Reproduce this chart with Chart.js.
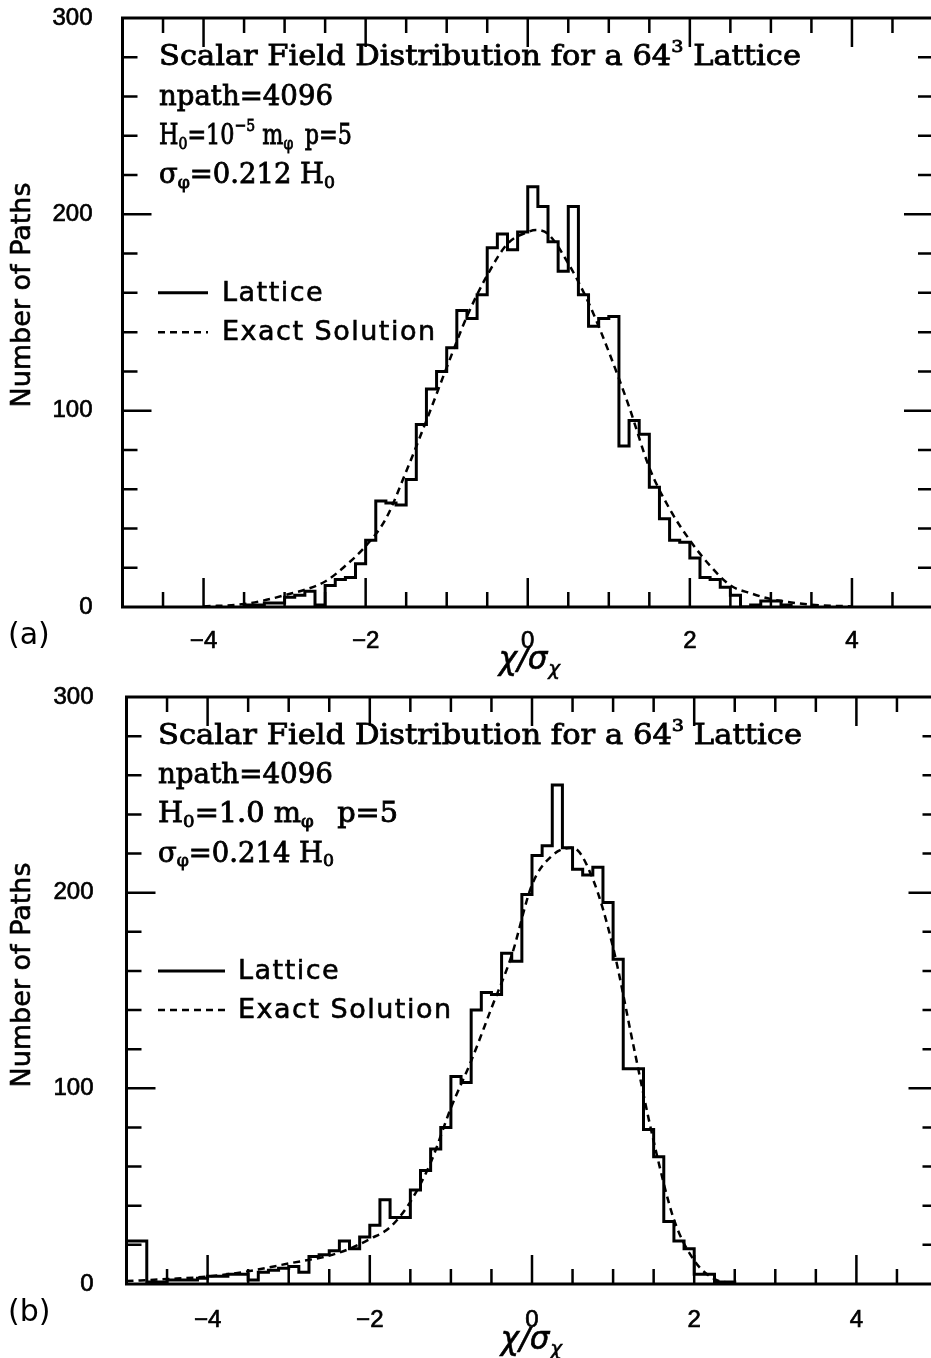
<!DOCTYPE html>
<html><head><meta charset="utf-8">
<script src="https://cdn.jsdelivr.net/npm/chart.js@4/dist/chart.umd.min.js"></script>
<style>
html,body{margin:0;padding:0;background:#fff;overflow:hidden;width:931px;height:1358px;}
.wrap{position:absolute;left:0;width:945px;}
#wa{top:0;height:680px;}
#wb{top:680px;height:678px;}
canvas{display:block;}
</style></head><body>
<div class="wrap" id="wa"><canvas id="ca" width="945" height="680"></canvas></div>
<div class="wrap" id="wb"><canvas id="cb" width="945" height="678"></canvas></div>
<script>
// ---------------- data ----------------
const binWidth = 0.125;

// Panel (a): H0 = 1e-5 m_phi
const histAStart = -3.5;
const histACounts = [1,1,2,2,5,6,8,1,11,14,15,22,34,54,53,52,65,93,111,120,132,151,147,159,183,190,182,191,214,204,186,171,204,159,143,147,148,82,95,88,61,45,34,33,25,15,14,10,6,0,1,3,3,1];
const exactAX = [-4.0,-3.5,-3.0,-2.5,-2.25,-2.0,-1.75,-1.5,-1.25,-1.0,-0.75,-0.5,-0.25,0.0,0.1,0.25,0.5,0.75,1.0,1.25,1.5,1.75,2.0,2.25,2.5,2.75,3.0,3.5,4.0];
const exactAY = [0.3,1.5,6,13,21,31,45,69,95,122,148,169,185,191,192,190,175,155,130,102,71,50,34,21,11,7,4,1.2,0.3];

// Panel (b): H0 = 1.0 m_phi
const histBStart = -5.0;
const histBCounts = [22,22,1,1,2,2,2,3,4,4,5,5,2,6,7,8,9,6,14,15,17,22,18,24,30,43,34,34,48,58,69,80,106,103,140,149,148,169,165,199,219,224,255,223,212,209,213,195,166,110,110,79,65,32,22,18,5,5,1,1];
const exactBX = [-5.0,-4.5,-4.0,-3.5,-3.0,-2.5,-2.25,-2.0,-1.75,-1.5,-1.25,-1.0,-0.75,-0.5,-0.25,0.0,0.25,0.5,0.75,1.0,1.25,1.5,1.75,2.0,2.25,2.5];
const exactBY = [1.5,2.5,3.8,6.5,10.5,14.5,18,23,29,42,62,90,114,141,168,204,219,223,207,172,122,73,33,12,2.5,0.3];

const xTickLabels = [-4,-2,0,2,4];
const yTickLabels = [0,100,200,300];
const xRange = [-5,5];
const yRange = [0,300];
const xMinorStep = 0.5, xMajorStep = 2;
const yMinorStep = 20, yMajorStep = 100;
const legendLabels = ['Lattice','Exact Solution'];
const legendYValues = [160,140];
const annotYValues = [280,260,240,220];
const yTitle = 'Number of Paths';

const annotA = [
  [{t:'Scalar Field Distribution for a 64'},{t:'3',sup:1},{t:' Lattice'}],
  [{t:'npath=4096'}],
  [{t:'H'},{t:'0',sub:1},{t:'=10'},{t:'−5',sup:1},{t:' m'},{t:'φ',sub:1},{t:'p=5',gap:14}],
  [{t:'σ'},{t:'φ',sub:1},{t:'=0.212 H'},{t:'0',sub:1}]
];
const annotB = [
  [{t:'Scalar Field Distribution for a 64'},{t:'3',sup:1},{t:' Lattice'}],
  [{t:'npath=4096'}],
  [{t:'H'},{t:'0',sub:1},{t:'=1.0 m'},{t:'φ',sub:1},{t:'p=5',gap:22}],
  [{t:'σ'},{t:'φ',sub:1},{t:'=0.214 H'},{t:'0',sub:1}]
];

// ---------------- helpers ----------------
function histPoints(start, counts){
  const pts = [{x:start, y:0}];
  counts.forEach((c,i)=>pts.push({x:start + i*binWidth, y:c}));
  const end = start + counts.length*binWidth;
  pts.push({x:end, y:counts[counts.length-1]});
  pts.push({x:end, y:0});
  return pts;
}
function boldText(ctx, t, x, y, lw){
  ctx.fillText(t, x, y);
  ctx.lineWidth = lw; ctx.strokeText(t, x, y);
}
function drawRich(ctx, segs, x, y, size, fitW){
  const subSize = Math.round(size*0.62);
  const parts = segs.map(s=>({
    t:s.t, gap:s.gap||0,
    font: (s.sub||s.sup) ? subSize+'px "DejaVu Serif"' : size+'px "DejaVu Serif"',
    dy: s.sup ? -size*0.38 : (s.sub ? size*0.27 : 0)
  }));
  let w = 0;
  parts.forEach(p=>{ctx.font=p.font; p.w=ctx.measureText(p.t).width; w += p.gap + p.w;});
  const sx = fitW ? fitW/w : 1;
  ctx.save();
  ctx.translate(x, y);
  ctx.scale(sx,1);
  ctx.textAlign='left'; ctx.textBaseline='middle';
  let cx = 0;
  parts.forEach(p=>{cx += p.gap; ctx.font=p.font; boldText(ctx, p.t, cx, p.dy, 0.8); cx += p.w;});
  ctx.restore();
}

const deco = {
  id:'deco',
  afterDraw(chart, args, o){
    const {ctx, chartArea:a, scales:{x, y}} = chart;
    ctx.save();
    ctx.strokeStyle='#000'; ctx.fillStyle='#000';
    // inward ticks on all four sides
    ctx.lineWidth = 2.5;
    ctx.beginPath();
    for (let i=1; ; i++){
      const v = xRange[0] + i*xMinorStep;
      if (v >= xRange[1]-1e-9) break;
      const L = Math.abs(v % xMajorStep) < 1e-9 ? o.major : o.minor;
      const px = x.getPixelForValue(v);
      ctx.moveTo(px, a.bottom); ctx.lineTo(px, a.bottom - L);
      ctx.moveTo(px, a.top); ctx.lineTo(px, a.top + L);
    }
    for (let i=1; ; i++){
      const v = yRange[0] + i*yMinorStep;
      if (v >= yRange[1]-1e-9) break;
      const L = Math.abs(v % yMajorStep) < 1e-9 ? o.major : o.minor;
      const py = y.getPixelForValue(v);
      ctx.moveTo(a.left, py); ctx.lineTo(a.left + L, py);
      ctx.moveTo(a.right, py); ctx.lineTo(a.right - L, py);
    }
    ctx.stroke();
    // frame
    ctx.lineWidth = 3;
    ctx.strokeRect(a.left, a.top, a.right-a.left, a.bottom-a.top);

    // annotation text
    o.annot.forEach((segs,i)=>{
      drawRich(ctx, segs, o.textX, y.getPixelForValue(annotYValues[i]) + 1, 27, o.textW[i]);
    });

    // legend
    ctx.textAlign='left'; ctx.textBaseline='middle';
    legendLabels.forEach((lab,i)=>{
      const py = y.getPixelForValue(legendYValues[i]);
      ctx.beginPath();
      if (i===0){ ctx.setLineDash([]); ctx.lineWidth=3; }
      else { ctx.setLineDash([7,5]); ctx.lineWidth=2.5; }
      ctx.moveTo(o.legX0, py); ctx.lineTo(o.legX1, py); ctx.stroke();
      ctx.setLineDash([]);
      ctx.font = '27px "DejaVu Sans"';
      try { ctx.letterSpacing = '1.5px'; } catch(e) {}
      boldText(ctx, lab, o.legTextX, py + 1, 0.6);
      try { ctx.letterSpacing = '0px'; } catch(e) {}
    });

    // y axis title
    ctx.save();
    ctx.translate(o.yTitleX, o.yTitleY);
    ctx.rotate(-Math.PI/2);
    ctx.font = '27px "DejaVu Sans"';
    ctx.textAlign='center'; ctx.textBaseline='middle';
    boldText(ctx, yTitle, 0, 0, 0.6);
    ctx.restore();

    // x axis title  chi / sigma_chi
    {
      const big = 'italic 31px "DejaVu Sans"', small = 'italic 20px "DejaVu Sans"';
      ctx.font = big; const w1 = ctx.measureText('χ/σ').width;
      ctx.font = small; const w2 = ctx.measureText('χ').width;
      const x0 = o.xTitleX - (w1+w2)/2;
      ctx.textAlign='left'; ctx.textBaseline='middle';
      ctx.font = big; boldText(ctx, 'χ/σ', x0, o.xTitleY, 0.6);
      ctx.font = small; boldText(ctx, 'χ', x0 + w1 + 1, o.xTitleY + 9, 0.5);
    }

    // panel label
    ctx.font = '30px "DejaVu Sans"';
    ctx.textAlign='left'; ctx.textBaseline='middle';
    ctx.fillText(o.panel, 8, o.panelY);
    ctx.restore();
  }
};

function makeChart(id, cfg){
  const H = cfg.H;
  const tickFont = {family:'"Liberation Sans", Arial, sans-serif', size:24};
  return new Chart(document.getElementById(id), {
    type:'line',
    data:{datasets:[
      {label:legendLabels[0], data:histPoints(cfg.histStart, cfg.counts), stepped:true,
       borderColor:'#000', borderWidth:3, pointRadius:0, fill:false, tension:0},
      {label:legendLabels[1], data:cfg.ex.map((v,i)=>({x:v, y:cfg.ey[i]})),
       borderColor:'#000', borderWidth:2.5, borderDash:[7,5], pointRadius:0, fill:false,
       cubicInterpolationMode:'monotone'}
    ]},
    options:{
      responsive:false, animation:false, events:[],
      layout:{padding:{left:0, top:cfg.top, right:945-cfg.right, bottom:0}},
      plugins:{legend:{display:false}, tooltip:{enabled:false}, deco:cfg.deco},
      scales:{
        x:{type:'linear', min:xRange[0], max:xRange[1],
           grid:{display:false, drawTicks:false}, border:{display:false},
           afterBuildTicks:s=>{ s.ticks = xTickLabels.map(v=>({value:v})); },
           afterFit:s=>{ s.height = H - cfg.bottom; s.paddingLeft = 0; s.paddingRight = 0; },
           ticks:{padding:cfg.xPad, color:'#000', autoSkip:false, maxRotation:0,
                  textStrokeColor:'#000', textStrokeWidth:0.7, font:tickFont,
                  callback:v=> (v<0?'−':'') + Math.abs(v)}},
        y:{type:'linear', min:yRange[0], max:yRange[1],
           grid:{display:false, drawTicks:false}, border:{display:false},
           afterBuildTicks:s=>{ s.ticks = yTickLabels.map(v=>({value:v})); },
           afterFit:s=>{ s.width = cfg.left; s.paddingTop = 0; s.paddingBottom = 0; },
           ticks:{padding:cfg.yPad, color:'#000',
                  textStrokeColor:'#000', textStrokeWidth:0.7, font:tickFont}}
      }
    },
    plugins:[deco]
  });
}

makeChart('ca', {
  H:680, left:122.5, right:933, top:18, bottom:607, xPad:20, yPad:30,
  histStart:histAStart, counts:histACounts, ex:exactAX, ey:exactAY,
  deco:{major:29, minor:15, annot:annotA, textX:159, textW:[642,174,193,176],
        legX0:158, legX1:208, legTextX:222, yTitleX:23, yTitleY:295,
        xTitleX:529, xTitleY:661, panel:'(a)', panelY:636}
});
makeChart('cb', {
  H:678, left:126.5, right:937.5, top:17, bottom:604, xPad:22, yPad:33,
  histStart:histBStart, counts:histBCounts, ex:exactBX, ey:exactBY,
  deco:{major:29, minor:15, annot:annotB, textX:158, textW:[644,175,240,176],
        legX0:158, legX1:225, legTextX:238, yTitleX:23, yTitleY:295,
        xTitleX:531, xTitleY:661, panel:'(b)', panelY:633}
});
</script>
</body></html>
